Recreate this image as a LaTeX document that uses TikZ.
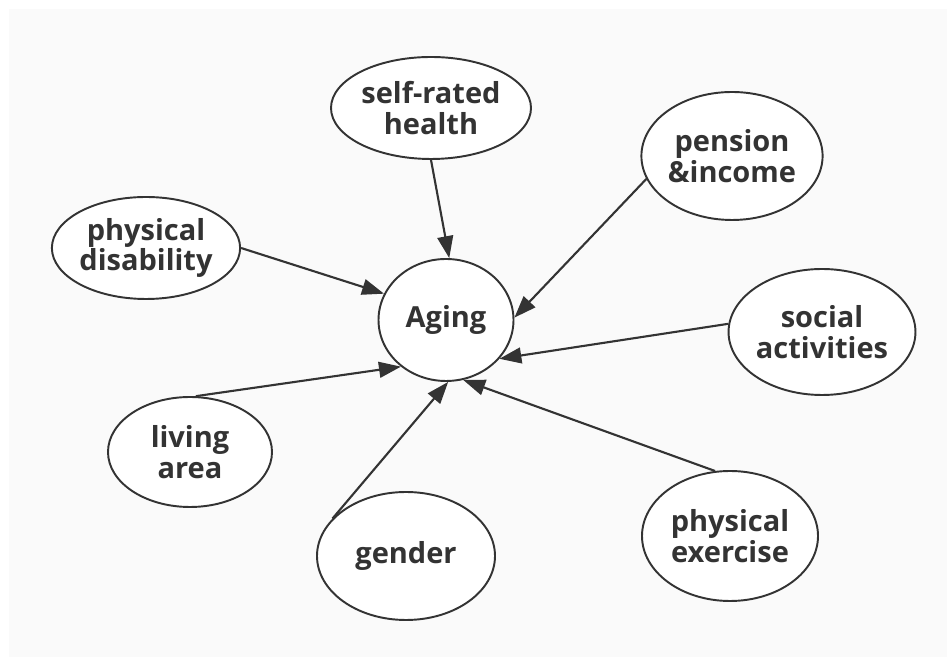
\documentclass[tikz,border=0pt]{standalone}
\usepackage{fontspec}
\setmainfont{Open Sans}
\usepackage{xcolor}
\usetikzlibrary{arrows.meta,shapes.geometric}
\definecolor{ink}{HTML}{333333}
\definecolor{paper}{HTML}{FAFAFA}

\begin{document}
\begin{tikzpicture}[
  factor/.style={ellipse, draw=ink, line width=1.1pt, fill=white, inner sep=0pt,
    align=center, text=ink, font=\fontsize{16.5}{17.6}\selectfont\bfseries},
  arr/.style={-{Triangle[length=12.5pt,width=9pt]}, line width=1.2pt, draw=ink, fill=ink}
]
% Canvas
\useasboundingbox (0,0) rectangle (18.94,13.14);
\fill[paper] (0.18,0) rectangle (18.94,12.96);
% Centre
\node[factor, minimum width=2.7cm, minimum height=2.44cm] (aging) at (8.92,6.74) {Aging};
% Influencing factors
\node[factor, minimum width=4.0cm, minimum height=2.04cm] (health) at (8.62,10.98) {self-rated\\health};
\node[factor, minimum width=3.6cm, minimum height=2.56cm] (pension) at (14.64,10.02) {pension\\\&income};
\node[factor, minimum width=3.64cm, minimum height=2.04cm] (disab) at (2.92,8.18) {physical\\disability};
\node[factor, minimum width=3.6cm, minimum height=2.52cm] (social) at (16.44,6.50) {social\\activities};
\node[factor, minimum width=3.28cm, minimum height=2.2cm] (living) at (3.80,4.10) {living\\area};
\node[factor, minimum width=3.56cm, minimum height=2.56cm] (gender) at (8.12,2.02) {gender};
\node[factor, minimum width=3.52cm, minimum height=2.6cm] (exercise) at (14.60,2.42) {physical\\exercise};
% Arrows into Aging
\draw[arr] (health.-90) -- (aging.87);
\draw[arr] (pension.195) -- (aging.2);
\draw[arr] (disab.0) -- (aging.157);
\draw[arr] (social.175) -- (aging.-36);
\draw[arr] (living.84) -- (aging.-134);
\draw[arr] (gender.153) -- (aging.-88);
\draw[arr] (exercise.103) -- (aging.-74);
\end{tikzpicture}
\end{document}
